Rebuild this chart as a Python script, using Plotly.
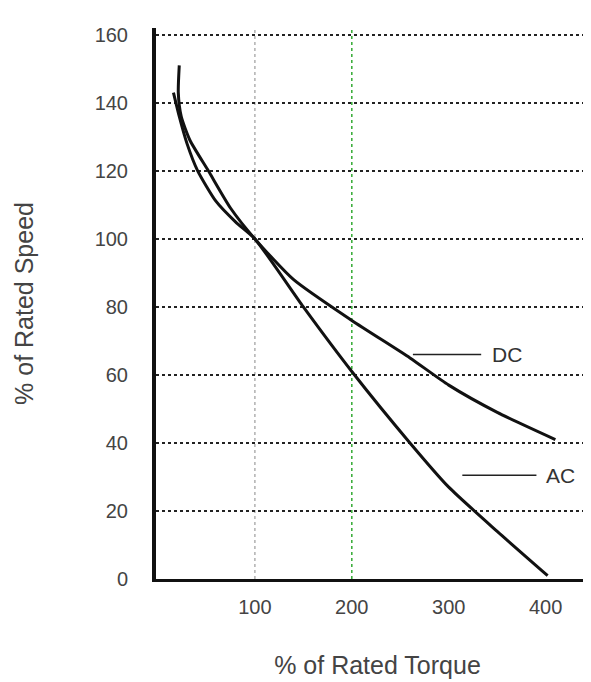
import plotly.graph_objects as go

dc_torque = [22, 21, 24, 33, 52, 75, 100, 140, 200, 260, 300, 350, 410]
dc_speed = [151, 143, 136, 129, 120, 109, 100, 88, 76, 65, 57, 49, 41]
ac_torque = [16, 22, 30, 41, 60, 80, 100, 150, 200, 260, 300, 350, 402]
ac_speed = [143, 136, 128, 120, 111, 105, 100, 80, 61, 40, 27, 14, 1]
y_ticks = [0, 20, 40, 60, 80, 100, 120, 140, 160]
x_ticks = [100, 200, 300, 400]
vgrid_x = [100, 200]
vgrid_col = ["#b0b0b0", "#33aa33"]

fig = go.Figure()
fig.add_trace(go.Scatter(x=dc_torque, y=dc_speed, mode="lines",
                         line=dict(color="#111", width=3, shape="spline", smoothing=0.6), showlegend=False))
fig.add_trace(go.Scatter(x=ac_torque, y=ac_speed, mode="lines",
                         line=dict(color="#111", width=3, shape="spline", smoothing=0.6), showlegend=False))

for xv, c in zip(vgrid_x, vgrid_col):
    fig.add_shape(type="line", x0=xv, x1=xv, y0=0, y1=162, xref="x", yref="y",
                  line=dict(color=c, width=1.5, dash="dot"), layer="below")

fig.add_annotation(x=263, y=66, ax=335, ay=66, axref="x", ayref="y", xref="x", yref="y",
                   showarrow=True, arrowhead=0, arrowwidth=1.5, arrowcolor="#222", text="")
fig.add_annotation(x=343, y=66, text="DC", showarrow=False, xanchor="left",
                   font=dict(size=21, color="#333"))
fig.add_annotation(x=314, y=30.5, ax=392, ay=30.5, axref="x", ayref="y", xref="x", yref="y",
                   showarrow=True, arrowhead=0, arrowwidth=1.5, arrowcolor="#222", text="")
fig.add_annotation(x=398, y=30.5, text="AC", showarrow=False, xanchor="left",
                   font=dict(size=21, color="#333"))

fig.update_xaxes(range=[-2, 455], tickvals=x_ticks, showgrid=False, zeroline=False,
                 showline=True, linecolor="#111", linewidth=3, automargin=False,
                 title=dict(text="% of Rated Torque", standoff=40),
                 tickfont=dict(size=20, color="#444"), ticklabelstandoff=8)
fig.update_yaxes(range=[0, 162], tickvals=y_ticks, showgrid=True, gridcolor="#222", griddash="dot",
                 gridwidth=1.5, zeroline=False, showline=True, linecolor="#111", linewidth=4,
                 automargin=False,
                 title=dict(text="% of Rated Speed", standoff=55),
                 tickfont=dict(size=20, color="#444"), ticklabelstandoff=20)
fig.update_layout(width=591, height=682, margin=dict(l=148, r=0, t=20, b=111),
                  plot_bgcolor="white", paper_bgcolor="white",
                  font=dict(family="Liberation Sans, Arial", size=21, color="#444"))
fig.write_html("out.html")
